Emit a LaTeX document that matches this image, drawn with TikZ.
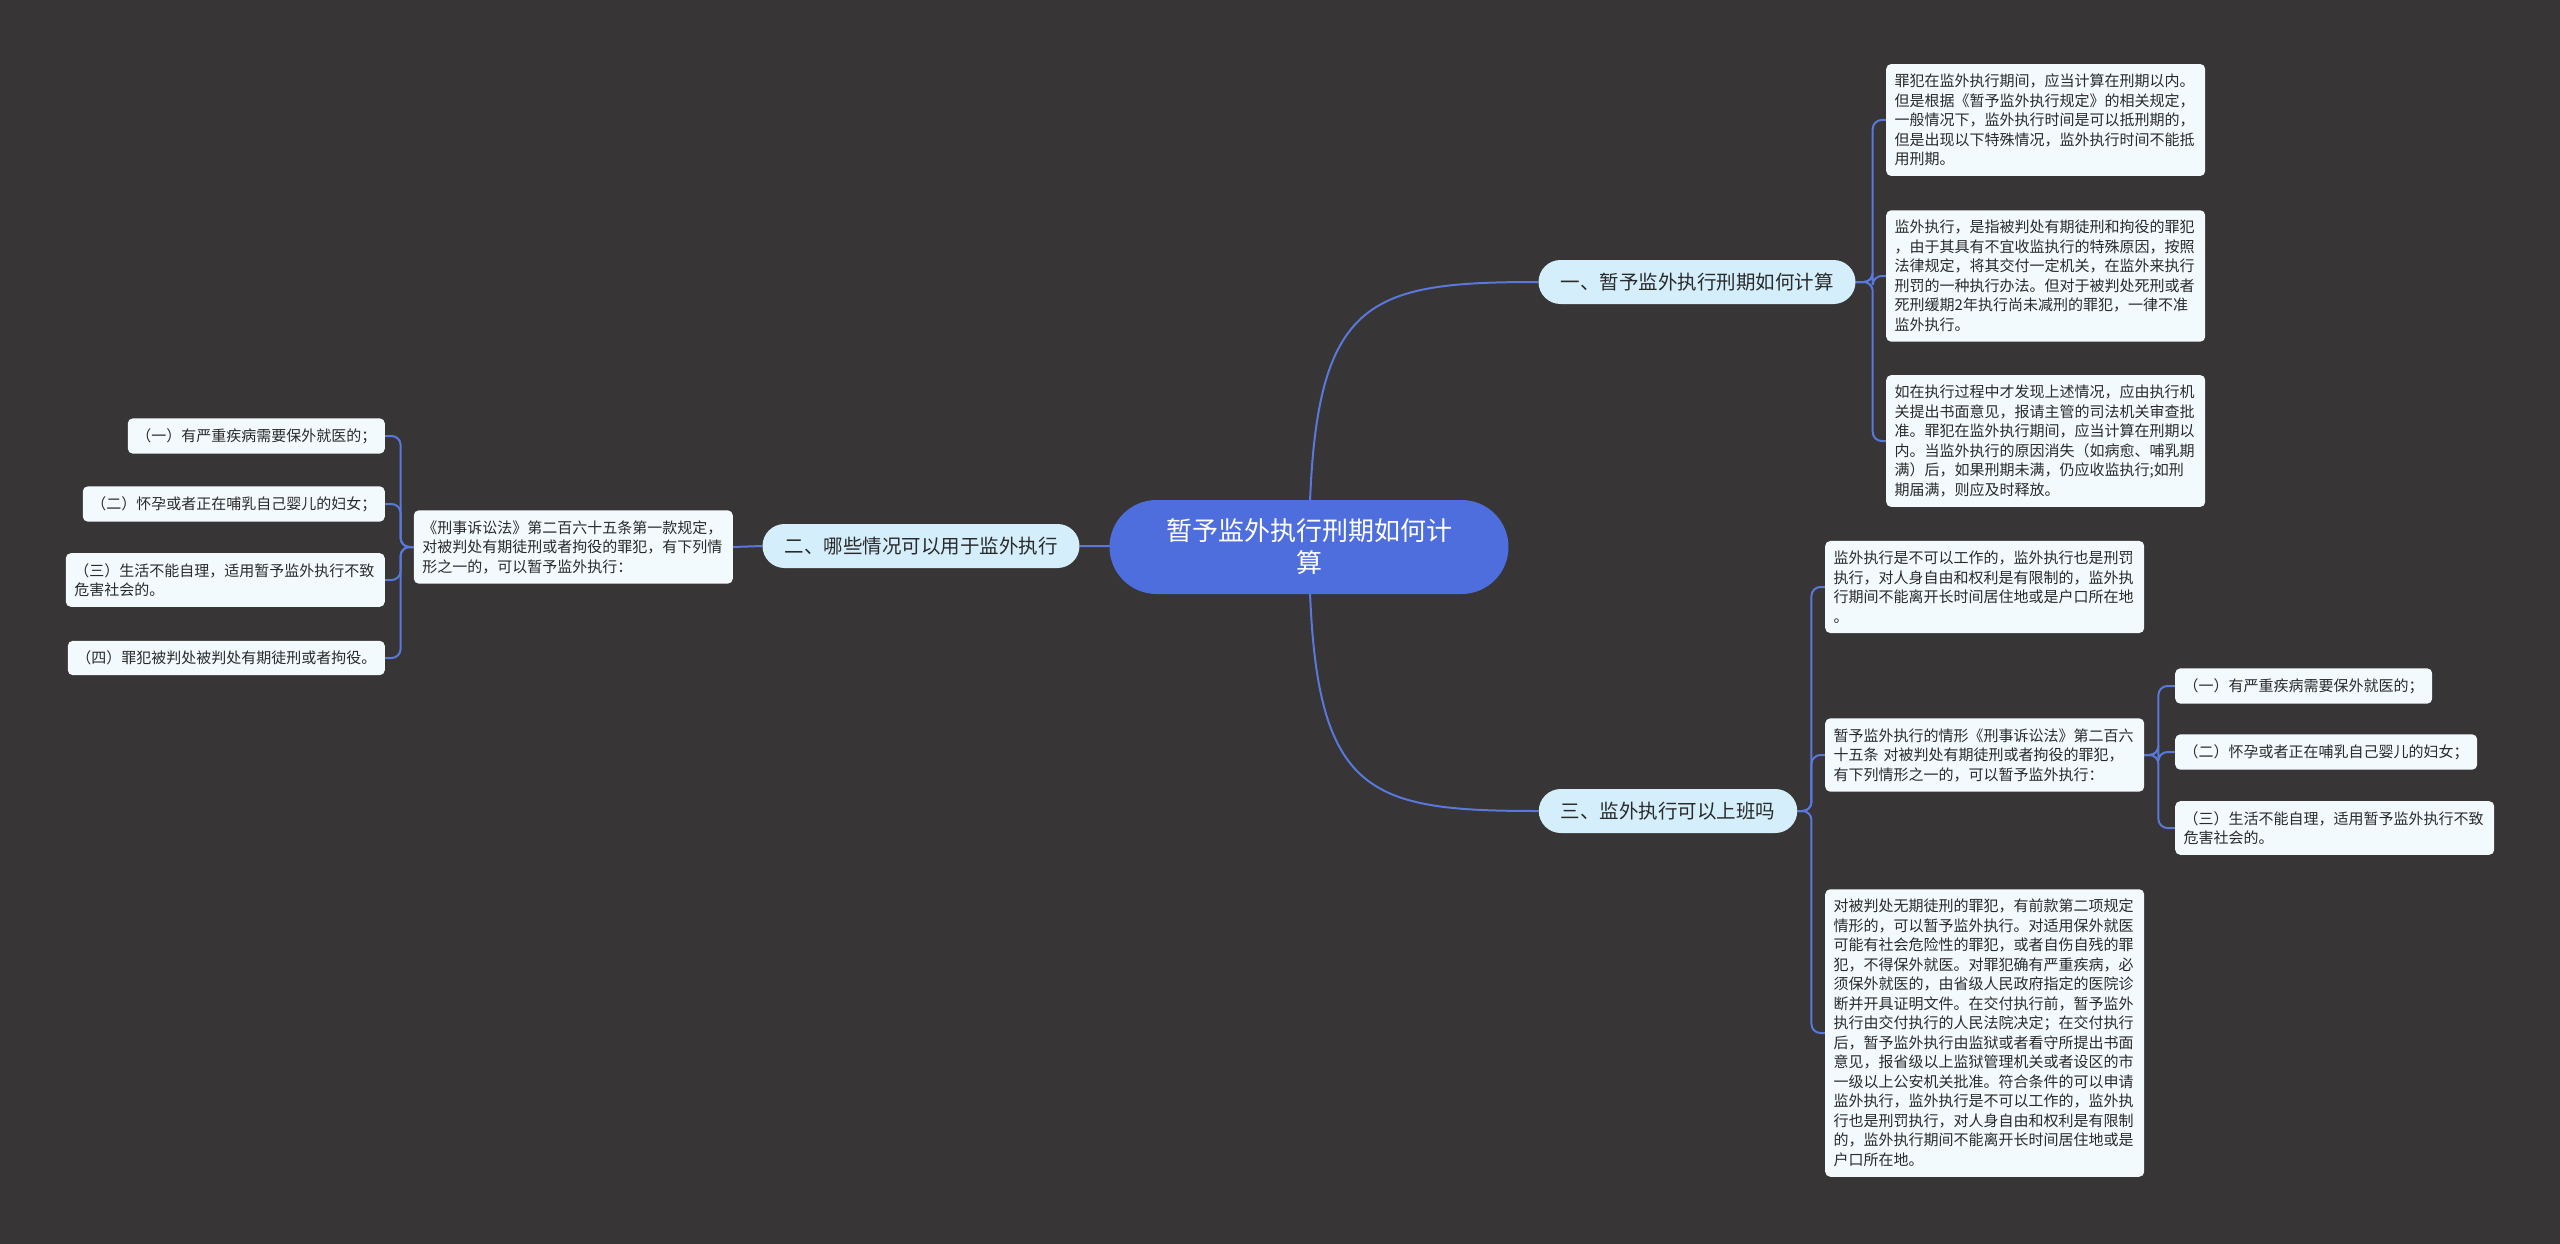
\documentclass[tikz,border=0pt]{standalone}
\usepackage{fontspec}
\newfontfamily\cjk{Noto Sans CJK SC}
\usetikzlibrary{backgrounds}
\definecolor{bgc}{HTML}{373535}
\definecolor{linec}{HTML}{5A78DC}
\definecolor{rootc}{HTML}{4E6EDE}
\definecolor{brc}{HTML}{D4EFFB}
\definecolor{leafc}{HTML}{F2FAFD}
\definecolor{txt}{HTML}{2A2A2A}
\begin{document}
\begin{tikzpicture}[x=1pt,y=-1pt,
  leaf/.style={fill=leafc, rounded corners=5pt, font=\cjk\fontsize{15}{19.5}\selectfont, text=txt, inner xsep=8.5pt, inner ysep=10pt, align=left},
  mleaf/.style={leaf, text width=302pt},
  branch/.style={fill=brc, rounded corners=22pt, minimum height=44pt, inner xsep=22pt, font=\cjk\fontsize{19.5}{24}\selectfont, text=txt},
  rootnode/.style={fill=rootc, rounded corners=47pt, minimum height=94pt, minimum width=399pt, text width=300pt, align=center, font=\cjk\fontsize{26}{32}\selectfont, text=white},
  conn/.style={draw=linec, line width=2pt},
  bconn/.style={conn, rounded corners=9pt}]

\node[rootnode] (root) at (1309,547) {暂予监外执行刑期如何计\\算};
\node[branch] (b1) at (1697,282) {一、暂予监外执行刑期如何计算};
\node[branch] (b2) at (921,546) {二、哪些情况可以用于监外执行};
\node[branch] (b3) at (1668,811) {三、监外执行可以上班吗};

\node[mleaf, anchor=west] (l1a) at (1886,120) {罪犯在监外执行期间，应当计算在刑期以内。\\但是根据《暂予监外执行规定》的相关规定，\\一般情况下，监外执行时间是可以抵刑期的，\\但是出现以下特殊情况，监外执行时间不能抵\\用刑期。};
\node[mleaf, anchor=west] (l1b) at (1886,276) {监外执行，是指被判处有期徒刑和拘役的罪犯\\，由于其具有不宜收监执行的特殊原因，按照\\法律规定，将其交付一定机关，在监外来执行\\刑罚的一种执行办法。但对于被判处死刑或者\\死刑缓期2年执行尚未减刑的罪犯，一律不准\\监外执行。};
\node[mleaf, anchor=west] (l1c) at (1886,441) {如在执行过程中才发现上述情况，应由执行机\\关提出书面意见，报请主管的司法机关审查批\\准。罪犯在监外执行期间，应当计算在刑期以\\内。当监外执行的原因消失（如病愈、哺乳期\\满）后，如果刑期未满，仍应收监执行;如刑\\期届满，则应及时释放。};

\node[mleaf, anchor=west] (l3a) at (1825,587) {监外执行是不可以工作的，监外执行也是刑罚\\执行，对人身自由和权利是有限制的，监外执\\行期间不能离开长时间居住地或是户口所在地\\。};
\node[mleaf, anchor=west] (l3b) at (1825,755) {暂予监外执行的情形《刑事诉讼法》第二百六\\十五条 对被判处有期徒刑或者拘役的罪犯，\\有下列情形之一的，可以暂予监外执行：};
\node[mleaf, anchor=west] (l3c) at (1825,1033) {对被判处无期徒刑的罪犯，有前款第二项规定\\情形的，可以暂予监外执行。对适用保外就医\\可能有社会危险性的罪犯，或者自伤自残的罪\\犯，不得保外就医。对罪犯确有严重疾病，必\\须保外就医的，由省级人民政府指定的医院诊\\断并开具证明文件。在交付执行前，暂予监外\\执行由交付执行的人民法院决定；在交付执行\\后，暂予监外执行由监狱或者看守所提出书面\\意见，报省级以上监狱管理机关或者设区的市\\一级以上公安机关批准。符合条件的可以申请\\监外执行，监外执行是不可以工作的，监外执\\行也是刑罚执行，对人身自由和权利是有限制\\的，监外执行期间不能离开长时间居住地或是\\户口所在地。};

\node[leaf, anchor=west] (c1) at (2175,686) {（一）有严重疾病需要保外就医的；};
\node[leaf, anchor=west] (c2) at (2175,752) {（二）怀孕或者正在哺乳自己婴儿的妇女；};
\node[mleaf, anchor=west] (c3) at (2175,828) {（三）生活不能自理，适用暂予监外执行不致\\危害社会的。};

\node[mleaf, anchor=east] (l2) at (733,547) {《刑事诉讼法》第二百六十五条第一款规定，\\对被判处有期徒刑或者拘役的罪犯，有下列情\\形之一的，可以暂予监外执行：};

\node[leaf, anchor=east] (d1) at (385,436) {（一）有严重疾病需要保外就医的；};
\node[leaf, anchor=east] (d2) at (385,504) {（二）怀孕或者正在哺乳自己婴儿的妇女；};
\node[mleaf, anchor=east] (d3) at (385,580) {（三）生活不能自理，适用暂予监外执行不致\\危害社会的。};
\node[leaf, anchor=east] (d4) at (385,658) {（四）罪犯被判处被判处有期徒刑或者拘役。};

\begin{scope}[on background layer]
\fill[bgc] (0,0) rectangle (2560,1244);
\draw[conn] (root.center) .. controls (1311,300) and (1360,282) .. (b1.west);
\draw[conn] (root.center) .. controls (1311,794) and (1360,811) .. (b3.west);
\draw[conn] (root.center) -- (b2.east);
\draw[conn] (b2.west) -- (l2.east);
\foreach \n in {l1a,l1b,l1c} \draw[bconn] (b1.east) -- ++(17,0) |- (\n.west);
\foreach \n in {l3a,l3b,l3c} \draw[bconn] (b3.east) -- ++(14,0) |- (\n.west);
\foreach \n in {c1,c2,c3} \draw[bconn] (l3b.east) -- ++(14,0) |- (\n.west);
\foreach \n in {d1,d2,d3,d4} \draw[bconn] (l2.west) -- ++(-13,0) |- (\n.east);
\end{scope}
\end{tikzpicture}
\end{document}
